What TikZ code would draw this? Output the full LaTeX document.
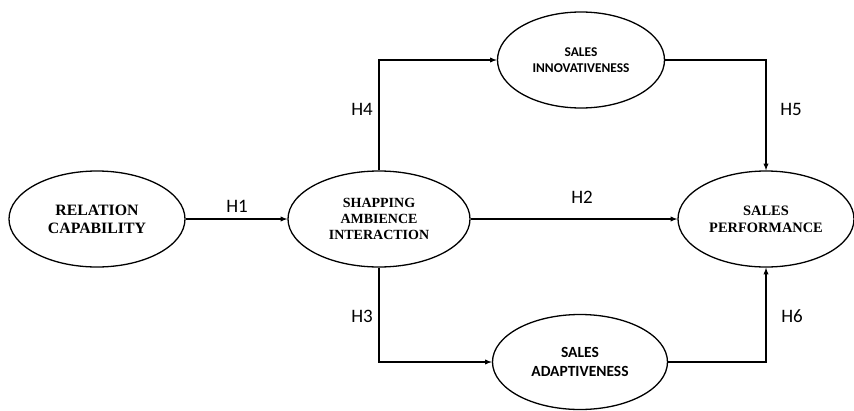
\documentclass[tikz,border=0pt]{standalone}
\usepackage{fontspec}
\setmainfont{Liberation Serif}
\newfontfamily\calibri{Carlito}
\usepackage{tikz}
\usetikzlibrary{arrows, positioning, shapes.geometric}
\tikzset{
  VAR/.style={% Style for the construct ellipses
      ellipse,
      line width=1.3pt,
      draw=black,
      inner sep=0pt,
      align=center,
      minimum height=96pt,
  },
  SRF/.style 2 args={% serif bold label
      font=\bfseries\fontsize{#1}{#2}\selectfont,
  },
  SNS/.style 2 args={% sans bold label
      font=\calibri\bfseries\fontsize{#1}{#2}\selectfont,
  },
  HYP/.style={% hypothesis labels
      font=\calibri\fontsize{19}{22}\selectfont,
  },
  LNK/.style={
      line width=1.3pt,
      ->, >=latex,
  }
}

\begin{document}
\begin{tikzpicture}[x=1pt, y=-1pt]
    \useasboundingbox (0,0) rectangle (854,410);
    % constructs
    \node[VAR, minimum width=176pt, SRF={15.8}{18}] (RelCap) at (97,219) {RELATION\\CAPABILITY};
    \node[VAR, minimum width=182pt, SRF={14}{16}] (ShopAmb) at (379,219) {SHAPPING\\AMBIENCE\\INTERACTION};
    \node[VAR, minimum width=167pt, SNS={13.4}{16}] (SalInno) at (581,60) {SALES\\INNOVATIVENESS};
    \node[VAR, minimum width=176pt, SRF={14.4}{17}] (SalPerf) at (766,219) {SALES\\PERFORMANCE};
    \node[VAR, minimum width=175pt, minimum height=95pt, SNS={15.5}{19}] (SalAdap) at (580,362) {SALES\\ADAPTIVENESS};
    % paths
    \draw[LNK] (RelCap) -- (ShopAmb);
    \draw[LNK] (ShopAmb) -- (SalPerf);
    \draw[LNK] (ShopAmb.north) |- (SalInno.west);
    \draw[LNK] (SalInno.east) -| (SalPerf.north);
    \draw[LNK] (ShopAmb.south) |- (SalAdap.west);
    \draw[LNK] (SalAdap.east) -| (SalPerf.south);
    % hypotheses
    \node[HYP] (H1) at (237,206) {H1};
    \node[HYP] (H2) at (582,197) {H2};
    \node[HYP] (H3) at (362,316) {H3};
    \node[HYP] (H4) at (362,109) {H4};
    \node[HYP] (H5) at (791,109) {H5};
    \node[HYP] (H6) at (792,316) {H6};
\end{tikzpicture}
\end{document}
